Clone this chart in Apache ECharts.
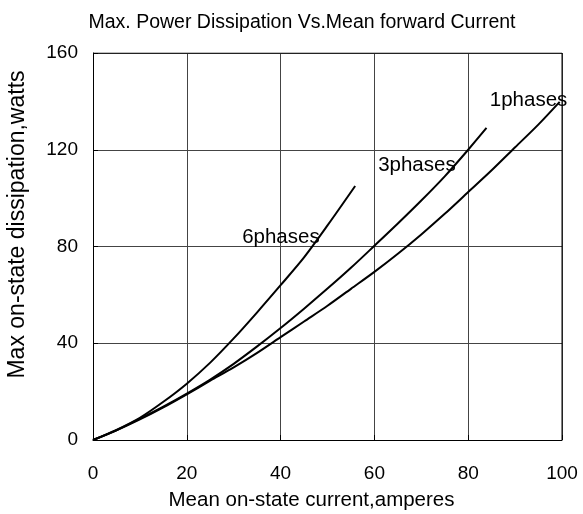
<!DOCTYPE html>
<html>
<head>
<meta charset="utf-8">
<script src="https://cdn.jsdelivr.net/npm/echarts@6/dist/echarts.min.js"></script>
<style>
html,body{margin:0;padding:0;background:#fff;}
#chart{width:583px;height:514px;}
</style>
</head>
<body>
<div id="chart"></div>
<script>
// Data
var titleText = 'Max. Power Dissipation Vs.Mean forward Current';
var xAxisName = 'Mean on-state current,amperes';
var yAxisName = 'Max on-state dissipation,watts';

var phase6 = [[0,0],[5,4.2],[10,9.2],[15,15.8],[20,23.3],[25,32],[30,42],[35,52.8],[40,64],[45,75.5],[50,88.7],[55.9,105]];
var phase3 = [[0,0],[5,4],[10,8.8],[15,13.8],[20,19.2],[25,25],[30,31.5],[35,38.7],[40,46.3],[45,54.3],[50,62.6],[55,71.2],[60,80.3],[65,89.5],[70,99],[75,109],[80,120],[83.9,129]];
var phase1 = [[0,0],[5,4],[10,8.5],[15,13.5],[20,18.9],[25,24.5],[30,30],[35,36],[40,42.5],[45,49],[50,55.5],[55,62.5],[60,69.5],[65,77],[70,85],[75,93.5],[80,102.5],[85,111.5],[90,121],[95,130.5],[99.5,139.8]];

var seriesNames = ['6phases','3phases','1phases'];
var labelAnchors = [[31.8,83.9],[60.8,113.6],[84.6,140.3]];

var font = 'Arial, "Liberation Sans", sans-serif';
var chart = echarts.init(document.getElementById('chart'));

function mkSeries(name, data, anchor){
  return {
    name: name,
    type: 'line',
    data: data,
    smooth: 0.3,
    symbol: 'none',
    lineStyle: {color: '#000', width: 2},
    z: 3,
    markPoint: {
      symbol: 'circle',
      symbolSize: 0,
      data: [{coord: anchor, value: name}],
      label: {
        show: true,
        position: 'right',
        distance: 0,
        formatter: name,
        color: '#000',
        fontFamily: font,
        fontSize: 20.5
      }
    }
  };
}

chart.setOption({
  animation: false,
  backgroundColor: '#fff',
  title: {
    text: titleText,
    left: 297,
    textAlign: 'center',
    top: 8,
    textStyle: {fontFamily: font, fontSize: 19.5, fontWeight: 'normal', color: '#000'}
  },
  grid: {left: 93, right: 21, top: 53, bottom: 74, containLabel: false, outerBoundsMode: 'none'},
  xAxis: {
    type: 'value',
    min: 0, max: 100, interval: 20,
    name: xAxisName,
    nameLocation: 'middle',
    nameGap: 50,
    nameTextStyle: {fontFamily: font, fontSize: 20.5, color: '#000', padding: [0, 32, 0, 0]},
    axisLine: {show: true, lineStyle: {color: '#000', width: 1}},
    axisTick: {show: true, inside: true, length: 5, lineStyle: {color: '#000'}},
    axisLabel: {fontFamily: font, fontSize: 19, color: '#000', margin: 24},
    splitLine: {show: true, lineStyle: {color: '#444', width: 1}}
  },
  yAxis: {
    type: 'value',
    min: 0, max: 160, interval: 40,
    name: yAxisName,
    nameLocation: 'middle',
    nameGap: 64,
    nameTextStyle: {fontFamily: font, fontSize: 23, color: '#000', padding: [0, 0, 0, 44]},
    axisLine: {show: true, lineStyle: {color: '#000', width: 1}},
    axisTick: {show: true, inside: true, length: 5, lineStyle: {color: '#000'}},
    axisLabel: {fontFamily: font, fontSize: 19, color: '#000', margin: 15},
    splitLine: {show: true, lineStyle: {color: '#444', width: 1}}
  },
  series: [
    mkSeries(seriesNames[0], phase6, labelAnchors[0]),
    mkSeries(seriesNames[1], phase3, labelAnchors[1]),
    mkSeries(seriesNames[2], phase1, labelAnchors[2]),
    {
      type: 'line',
      data: [[0,160],[100,160],[100,0]],
      symbol: 'none',
      silent: true,
      lineStyle: {color: '#000', width: 1},
      z: 1
    }
  ]
});
</script>
</body>
</html>
